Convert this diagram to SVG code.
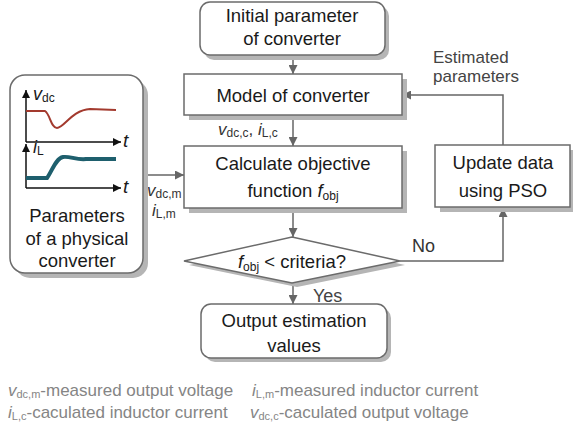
<svg xmlns="http://www.w3.org/2000/svg" width="574" height="433" viewBox="0 0 574 433">
<defs>
<marker id="ah" viewBox="0 0 10 10" refX="10" refY="5" markerWidth="9" markerHeight="9" markerUnits="userSpaceOnUse" orient="auto"><path d="M0,0 L10,5 L0,10 Z" fill="#666"/></marker>
<marker id="ax" viewBox="0 0 10 10" refX="10" refY="5" markerWidth="8" markerHeight="8" markerUnits="userSpaceOnUse" orient="auto"><path d="M0,0 L10,5 L0,10 Z" fill="#111"/></marker>
</defs>
<style>
text{font-family:"Liberation Sans",Arial,sans-serif;fill:#1a1a1a;}
.t{font-size:18.5px;text-anchor:middle;}
.box{fill:#fff;stroke:#6b6b6b;stroke-width:1.5;}
.sh{fill:#b5b5b5;stroke:none;}
.c{fill:none;stroke:#666;stroke-width:1.5;marker-end:url(#ah);}
.lab{font-size:17px;fill:#333;}
.sub{font-size:12px;}
.ft{font-size:17px;fill:#858585;}
.fs{font-size:11px;fill:#858585;}
.it{font-style:italic;}
.est{font-size:17px;fill:#444;}
</style>
<rect width="574" height="433" fill="#fff"/>

<g id="connectors">
<line class="c" x1="293" y1="55" x2="293" y2="74"/>
<line class="c" x1="293" y1="115" x2="293" y2="146"/>
<line class="c" x1="293" y1="208" x2="293" y2="237"/>
<line class="c" x1="293" y1="283" x2="293" y2="304"/>
<line class="c" x1="143" y1="175" x2="184" y2="175"/>
<polyline class="c" points="400,261 503,261 503,208"/>
<polyline class="c" points="503,146 503,95 402,95"/>
<text class="lab" x="218" y="135"><tspan class="it">v</tspan><tspan class="sub" dy="2">dc,c</tspan><tspan dy="-2">, </tspan><tspan class="it">i</tspan><tspan class="sub" dy="2">L,c</tspan></text>
<text class="lab" x="147" y="196"><tspan class="it">v</tspan><tspan class="sub" dy="2">dc,m</tspan></text>
<text class="lab" x="152" y="216"><tspan class="it">i</tspan><tspan class="sub" dy="2">L,m</tspan></text>
<text x="412" y="252" style="font-size:18px;fill:#333">No</text>
<text x="313" y="302" style="font-size:18px;fill:#444">Yes</text>
<text class="est" x="433" y="63">Estimated</text>
<text class="est" x="433" y="82">parameters</text>
</g>

<g id="n-initial">
<rect class="sh" x="204" y="6" width="185" height="54" rx="10"/>
<rect class="box" x="200" y="2" width="185" height="53" rx="10"/>
<text class="t" x="292" y="22">Initial parameter</text>
<text class="t" x="292" y="45">of converter</text>
</g>

<g id="n-model">
<rect class="sh" x="189" y="79" width="218" height="41"/>
<rect class="box" x="184" y="74" width="218" height="41"/>
<text class="t" x="293" y="102">Model of converter</text>
</g>

<g id="n-calc">
<rect class="sh" x="189" y="151" width="218" height="62"/>
<rect class="box" x="184" y="146" width="218" height="62"/>
<text class="t" x="293" y="170">Calculate objective</text>
<text class="t" x="293" y="197">function <tspan class="it">f</tspan><tspan style="font-size:12px" dy="3">obj</tspan></text>
</g>

<g id="n-update">
<rect class="sh" x="440" y="150" width="133" height="62"/>
<rect class="box" x="435" y="145" width="135" height="62"/>
<text class="t" x="503" y="169">Update data</text>
<text class="t" x="503" y="197">using PSO</text>
</g>

<g id="n-decision">
<polygon class="sh" points="297,241 405,265 297,287 189,265"/>
<polygon class="box" points="292,237 400,261 292,283 184,261"/>
<text class="t" x="292" y="268"><tspan class="it">f</tspan><tspan style="font-size:12px" dy="3">obj</tspan><tspan dy="-3"> &lt; criteria?</tspan></text>
</g>

<g id="n-output">
<rect class="sh" x="205" y="308" width="186" height="54" rx="10"/>
<rect class="box" x="201" y="304" width="186" height="54" rx="10"/>
<text class="t" x="294" y="327">Output estimation</text>
<text class="t" x="294" y="352">values</text>
</g>

<g id="n-physical">
<rect class="sh" x="15" y="80" width="133" height="198" rx="15"/>
<rect class="box" x="10" y="75" width="133" height="198" rx="15"/>
<line x1="26" y1="142" x2="26" y2="90" stroke="#111" stroke-width="1.5" marker-end="url(#ax)"/>
<line x1="26" y1="142" x2="121" y2="142" stroke="#111" stroke-width="1.5" marker-end="url(#ax)"/>
<path d="M26,111 L45,111 C50,114 51,128 57,128 C64,128 72,110 90,109 L116,110" fill="none" stroke="#a33a2e" stroke-width="2"/>
<text x="33" y="100" style="font-size:18px"><tspan class="it">v</tspan><tspan style="font-size:12px" dy="2">dc</tspan></text>
<text x="123" y="147" class="it" style="font-size:19px">t</text>
<line x1="26" y1="188" x2="26" y2="144" stroke="#111" stroke-width="1.5" marker-end="url(#ax)"/>
<line x1="26" y1="188" x2="121" y2="188" stroke="#111" stroke-width="1.5" marker-end="url(#ax)"/>
<path d="M26,178 L47,178 C52,171 56,158 63,157 C70,156 76,160 86,159 L116,159" fill="none" stroke="#1e5f6d" stroke-width="4"/>
<text x="33" y="153" style="font-size:18px"><tspan class="it">i</tspan><tspan style="font-size:12px" dy="2">L</tspan></text>
<text x="123" y="193" class="it" style="font-size:19px">t</text>
<text class="t" x="77" y="222">Parameters</text>
<text class="t" x="77" y="245">of a physical</text>
<text class="t" x="77" y="267">converter</text>
</g>

<g id="legend">
<text class="ft" x="8" y="396"><tspan class="it">v</tspan><tspan class="fs" dy="2">dc,m</tspan><tspan dy="-2">-measured output voltage</tspan></text>
<text class="ft" x="252" y="396"><tspan class="it">i</tspan><tspan class="fs" dy="2">L,m</tspan><tspan dy="-2">-measured inductor current</tspan></text>
<text class="ft" x="8" y="418"><tspan class="it">i</tspan><tspan class="fs" dy="2">L,c</tspan><tspan dy="-2">-caculated  inductor current</tspan></text>
<text class="ft" x="250" y="418"><tspan class="it">v</tspan><tspan class="fs" dy="2">dc,c</tspan><tspan dy="-2">-caculated output voltage</tspan></text>
</g>
</svg>
